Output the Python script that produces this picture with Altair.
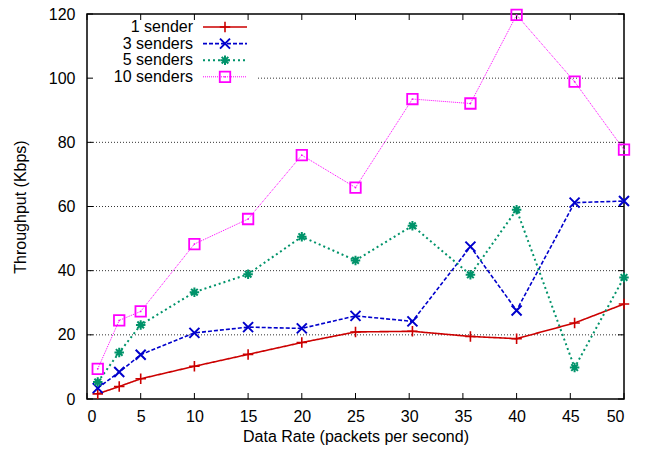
import altair as alt
import pandas as pd

# ---- data ----
rates = [1, 3, 5, 10, 15, 20, 25, 30.3, 35.7, 40, 45.4, 50]
one_sender = [1.6, 3.9, 6.3, 10.2, 13.9, 17.6, 20.9, 21.1, 19.5, 18.8, 23.7, 29.6]
three_senders = [3.4, 8.4, 13.8, 20.6, 22.4, 22.0, 25.9, 24.2, 47.5, 27.6, 61.2, 61.7]
five_senders = [5.3, 14.5, 23.1, 33.3, 38.9, 50.6, 43.2, 54.0, 38.7, 59.0, 9.8, 37.9]
ten_senders = [9.4, 24.5, 27.3, 48.3, 56.1, 76.0, 65.9, 93.5, 92.1, 119.7, 98.9, 77.7]

series_names = ["1 sender", "3 senders", "5 senders", "10 senders"]
series_values = [one_sender, three_senders, five_senders, ten_senders]
x_ticks = list(range(0, 51, 5))
y_ticks = list(range(0, 121, 20))
grid_values = [20, 40, 60, 80, 100]

# ---- styles ----
colors = ["#cc0000", "#0000cc", "#00936a", "#ff00ff"]
dashes = [[1, 0], [4, 2], [2, 3], [1, 1]]
widths = [1.6, 1.6, 2.0, 1.0]
shapes = [
    "M-1,0L1,0M0,-1L0,1",
    "M-1,-1L1,1M-1,1L1,-1",
    "M-1,0L1,0M0,-1L0,1M-0.7,-0.7L0.7,0.7M-0.7,0.7L0.7,-0.7",
    "M-1,-1L1,-1L1,1L-1,1Z",
]
sizes = [110, 100, 90, 110]
mwidths = [1.6, 2.0, 2.0, 1.8]

W, H = 537, 385
FONT = "Liberation Sans"

xs = alt.Scale(domain=[0, 50], nice=False, zero=False)
ys = alt.Scale(domain=[0, 120], nice=False)

x_axis = alt.Axis(values=x_ticks, ticks=False, tickSize=0, domain=False, grid=False,
                  labelFontSize=16, labelPadding=9, labelFont=FONT, labelColor="#000",
                  title="Data Rate (packets per second)", titleFont=FONT,
                  titleFontSize=16, titleFontWeight="normal", titlePadding=4, titleColor="#000")
y_axis = alt.Axis(values=y_ticks, ticks=False, tickSize=0, domain=False, grid=False,
                  labelFontSize=16, labelPadding=12, labelFont=FONT, labelColor="#000",
                  title="Throughput (Kbps)", titleFont=FONT,
                  titleFontSize=16, titleFontWeight="normal", titlePadding=20, titleColor="#000")

dummy = pd.DataFrame({"a": [0]})

layers = []

# grid lines
grid_df = pd.DataFrame({"g": grid_values})
layers.append(
    alt.Chart(grid_df).mark_rule(color="#333", strokeDash=[1, 2], strokeWidth=1).encode(
        y=alt.Y("g:Q", scale=ys, axis=y_axis),
        x=alt.value(0), x2=alt.value(W),
    )
)

# legend background (hides grid under legend)
layers.append(
    alt.Chart(dummy).mark_rect(color="white").encode(
        x=alt.value(1), x2=alt.value(170), y=alt.value(4), y2=alt.value(72)
    )
)

# inward ticks
xt = pd.DataFrame({"t": x_ticks})
yt = pd.DataFrame({"t": y_ticks})
for y0, y1 in [(H, H - 6), (0, 6)]:
    layers.append(
        alt.Chart(xt).mark_rule(color="#000", strokeWidth=1).encode(
            x=alt.X("t:Q", scale=xs, axis=x_axis), y=alt.value(y0), y2=alt.value(y1)
        )
    )
for x0, x1 in [(0, 6), (W, W - 6)]:
    layers.append(
        alt.Chart(yt).mark_rule(color="#000", strokeWidth=1).encode(
            y=alt.Y("t:Q", scale=ys, axis=y_axis), x=alt.value(x0), x2=alt.value(x1)
        )
    )

# series
for i, name in enumerate(series_names):
    df = pd.DataFrame({"rate": rates, "value": series_values[i]})
    enc = dict(
        x=alt.X("rate:Q", scale=xs, axis=x_axis),
        y=alt.Y("value:Q", scale=ys, axis=y_axis),
    )
    layers.append(
        alt.Chart(df).mark_line(color=colors[i], strokeDash=dashes[i], strokeWidth=widths[i]).encode(**enc)
    )
    layers.append(
        alt.Chart(df).mark_point(shape=shapes[i], size=sizes[i], filled=False, color=colors[i],
                                 strokeWidth=mwidths[i], opacity=1).encode(**enc)
    )
    if i == 3:
        layers.append(
            alt.Chart(df).mark_point(shape="circle", size=3, filled=True, color=colors[i], opacity=1).encode(**enc)
        )

    # legend entry
    ly = 13 + 16.6 * i
    layers.append(
        alt.Chart(dummy).mark_text(text=name, align="right", baseline="middle", fontSize=16,
                                   font=FONT, color="#000").encode(x=alt.value(106), y=alt.value(ly))
    )
    layers.append(
        alt.Chart(dummy).mark_rule(color=colors[i], strokeDash=dashes[i], strokeWidth=widths[i]).encode(
            x=alt.value(116), x2=alt.value(160), y=alt.value(ly)
        )
    )
    pt = alt.Chart(dummy).mark_point(shape=shapes[i], size=sizes[i], filled=False, color=colors[i],
                                     strokeWidth=mwidths[i], opacity=1).encode(x=alt.value(138), y=alt.value(ly))
    layers.append(pt)
    if i == 3:
        layers.append(
            alt.Chart(dummy).mark_point(shape="circle", size=3, filled=True, color=colors[i], opacity=1).encode(
                x=alt.value(138), y=alt.value(ly))
        )

chart = alt.layer(*layers).properties(
    width=W, height=H,
    autosize=alt.AutoSizeParams(type="none"),
    padding={"left": 79, "top": 6, "right": 14, "bottom": 50},
    background="white",
).configure_view(stroke="#000", strokeWidth=1.5)

chart.save("out.html", embed_options={"renderer": "svg", "actions": False})
